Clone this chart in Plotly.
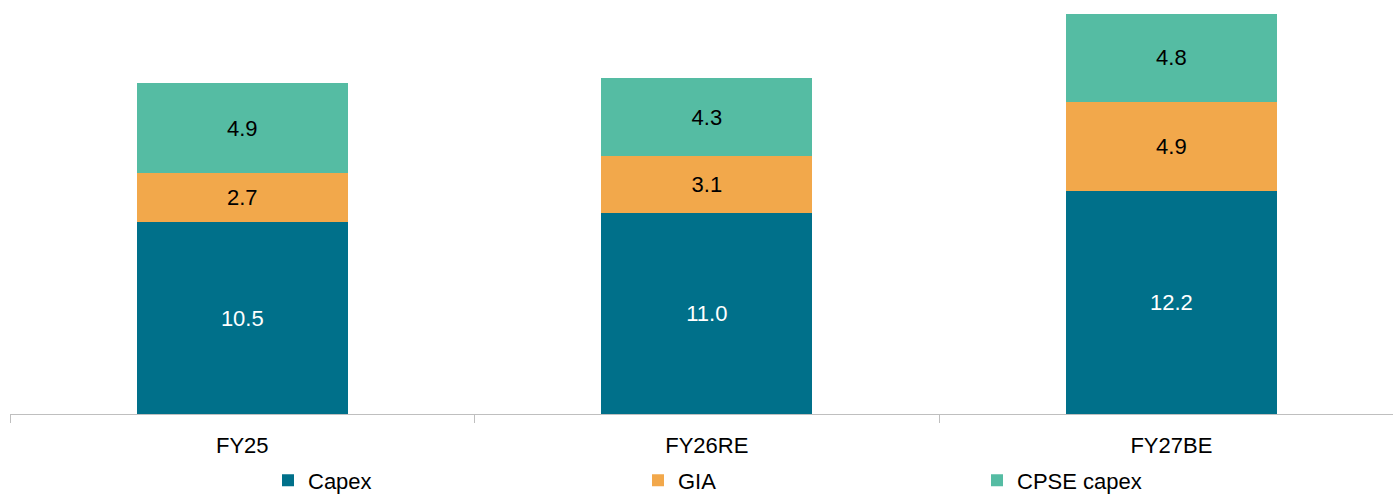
import plotly.graph_objects as go

categories = ["FY25", "FY26RE", "FY27BE"]
capex = [10.5, 11.0, 12.2]
gia = [2.7, 3.1, 4.9]
cpse_capex = [4.9, 4.3, 4.8]

series_names = ["Capex", "GIA", "CPSE capex"]
series_colors = ["#00708A", "#F2A84B", "#55BCA3"]
text_colors = ["white", "black", "black"]
legends = ["legend", "legend2", "legend3"]

FONT = "Liberation Sans, Arial, sans-serif"

fig = go.Figure()
for name, vals, col, tcol, lg in zip(series_names, [capex, gia, cpse_capex],
                                     series_colors, text_colors, legends):
    fig.add_trace(go.Bar(
        x=categories, y=vals, name=name, legend=lg,
        marker=dict(color=col, line=dict(width=0)),
        width=0.454,
        texttemplate="%{y:.1f}", textposition="inside",
        insidetextanchor="middle",
        textfont=dict(color=tcol, size=22, family=FONT),
        hoverinfo="skip",
    ))

W, H = 1393, 494
L, R, T, B = 10, 0, 0, 80

leg_y = 1 - 480.5 / H
legend_common = dict(orientation="h", yanchor="middle", xanchor="left",
                     xref="container", yref="container",
                     y=leg_y, font=dict(size=22, family=FONT, color="black"),
                     bgcolor="rgba(0,0,0,0)", borderwidth=0)

fig.update_layout(
    width=W, height=H,
    margin=dict(l=L, r=R, t=T, b=B),
    barmode="stack",
    plot_bgcolor="white", paper_bgcolor="white",
    font=dict(family=FONT, size=22, color="black"),
    showlegend=True,
    legend=dict(x=268 / W, **legend_common),
    legend2=dict(x=638 / W, **legend_common),
    legend3=dict(x=977 / W, **legend_common),
    xaxis=dict(
        type="category", range=[-0.5, 2.477],
        showline=True, linecolor="#bfbfbf", linewidth=1,
        ticks="outside", tickson="boundaries", ticklen=8,
        tickcolor="#bfbfbf", tickwidth=1,
        ticklabelstandoff=12,
        tickfont=dict(size=22, family=FONT, color="black"),
        showgrid=False, zeroline=False, fixedrange=True,
        automargin=False,
    ),
    yaxis=dict(
        range=[0, 22.66], visible=False, showgrid=False, zeroline=False,
        fixedrange=True, automargin=False,
    ),
    uniformtext=dict(minsize=22, mode="show"),
)

fig.write_html("out.html")
